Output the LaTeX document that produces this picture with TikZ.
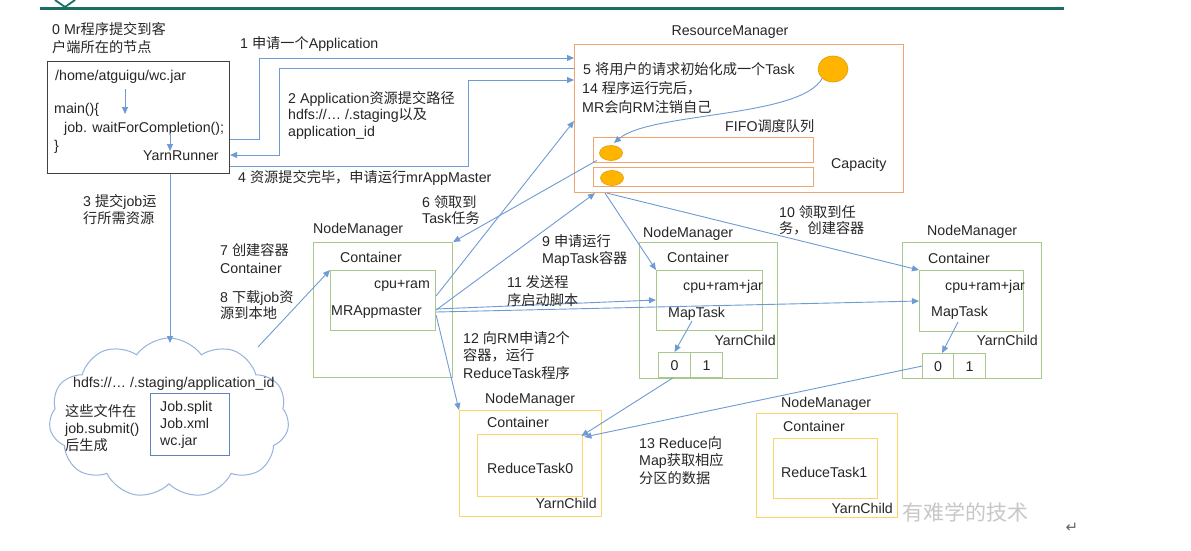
\documentclass[tikz,border=0pt]{standalone}
\usepackage{fontspec}
\setmainfont{Liberation Sans}
\newfontfamily\cjkfont{Noto Sans CJK SC}
\newfontfamily\symfont{DejaVu Sans}
\usetikzlibrary{arrows.meta,shapes.symbols,shapes.geometric,calc}

\definecolor{ink}{HTML}{262626}
\definecolor{linkc}{HTML}{6E9BD3}
\definecolor{clientc}{HTML}{404040}
\definecolor{rmc}{HTML}{F0A472}
\definecolor{nmc}{HTML}{A9C98C}
\definecolor{redc}{HTML}{F9D56B}
\definecolor{cloudc}{HTML}{94B4DC}
\definecolor{filesc}{HTML}{5F84BC}
\definecolor{tokenc}{HTML}{FFB500}
\definecolor{tokenline}{HTML}{E29B00}
\definecolor{topbar}{HTML}{1B6F62}

\newcommand\zh[1]{{\cjkfont #1}}

% multi-line labels are placed by the baseline of their last line
\tikzset{
  lbl/.style={anchor=base west, inner sep=0pt, align=left, text=ink,
              font=\fontsize{14.2}{#1}\selectfont},
  lbl/.default=17,
  lble/.style={anchor=base east, inner sep=0pt, text=ink, font=\fontsize{14.2}{17}\selectfont},
  lblc/.style={anchor=base, inner sep=0pt, text=ink, font=\fontsize{14.2}{17}\selectfont},
  boxf/.style={draw=#1, line width=1.1pt, anchor=north west, inner sep=0pt},
  sz/.style 2 args={minimum width=#1pt, minimum height=#2pt},
  link/.style={draw=linkc, line width=0.9pt, -{Triangle[length=7pt,width=6pt]}},
  token/.style={ellipse, draw=tokenline, fill=tokenc, line width=0.6pt, inner sep=0pt},
}

\begin{document}
\begin{tikzpicture}[x=1pt,y=-1pt]
\useasboundingbox (0,0) rectangle (1191,550);
\fill[white] (0,0) rectangle (1191,550);

% page header rule
\draw[topbar, line width=3.5pt] (40,8.5) -- (1064,8.5);
\draw[topbar, line width=1.8pt] (55,0) -- (65,7) -- (75,0);

% ---------------- client node ----------------
\node[lbl=18] (step0) at (52,52) {0 Mr\zh{程序提交到客}\\\zh{户端所在的节点}};
\node[boxf=clientc, sz={182}{112}] (client) at (47,61) {};
\node[lbl] (wcjar) at (55,80) {/home/atguigu/wc.jar};
\node[lbl] (mainfn) at (54,113) {main()\{};
\node[lbl] (waitc) at (64,132) {job. waitForCompletion();};
\node[lbl] (brace) at (54,150) {\}};
\node[lbl] (runner) at (143,160) {YarnRunner};
\coordinate (ca1) at (125,89);
\coordinate (ca2) at (125,114);
\coordinate (cb1) at (170,133);
\coordinate (cb2) at (170,151);
\draw[link] (ca1) -- (ca2);
\draw[link] (cb1) -- (cb2);

% ---------------- resource manager ----------------
\node[lblc] (rmtitle) at (730,35) {ResourceManager};
\node[boxf=rmc, sz={329}{148}] (rm) at (574,44) {};
\node[lbl] (s5) at (583,74) {5 \zh{将用户的请求初始化成一个}Task};
\node[lbl=19] (s14) at (582,112) {14 \zh{程序运行完后，}\\MR\zh{会向}RM\zh{注销自己}};
\node[token, minimum width=30pt, minimum height=26pt] (bigtok) at (833,69) {};
\node[lbl] (fifo) at (725,131) {FIFO\zh{调度队列}};
\node[boxf=rmc, sz={220}{25}] (q1) at (593,137) {};
\node[boxf=rmc, sz={220}{19}] (q2) at (593,167) {};
\node[token, minimum width=23pt, minimum height=15pt] (tok1) at (611,153) {};
\node[token, minimum width=23pt, minimum height=15pt] (tok2) at (612,178) {};
\node[lbl] (cap) at (831,168) {Capacity};
\coordinate (qin) at (614,143);
\draw[link] (bigtok.south west) .. controls (800,118) and (650,112) .. (qin);

% ---------------- client <-> RM ----------------
\draw[link] (client.east |- 0,139) -- (259,139) -- (259,58) -- (rm.west |- 0,58);
\draw[link] (rm.west |- 0,68) -- (279,68) -- (279,155) -- (client.east |- 0,155);
\draw[link] (client.east |- 0,166) -- (468,166) -- (468,80) -- (rm.west |- 0,80);
\node[lbl] (l1) at (240,48) {1 \zh{申请一个}Application};
\node[lbl=16.5] (l2) at (288,136) {2 Application\zh{资源提交路径}\\hdfs://… /.staging\zh{以及}\\application\_id};
\node[lbl] (l4) at (238,182) {4 \zh{资源提交完毕，申请运行}mrAppMaster};

% ---------------- staging area (cloud) ----------------
\node[cloud, draw=cloudc, line width=1pt, cloud puffs=11, cloud puff arc=110, aspect=1.5,
      minimum width=240pt, minimum height=160pt, inner sep=0pt] (cloud) at (169,418) {};
\node[lbl] (hdfs) at (73,387) {hdfs://… /.staging/application\_id};
\node[lbl] (gen) at (65,450) {\zh{这些文件在}\\job.submit()\\\zh{后生成}};
\node[boxf=filesc, sz={79}{62}, line width=0.9pt] (files) at (150,393) {};
\node[lbl] (filelist) at (160,445) {Job.split\\Job.xml\\wc.jar};
\coordinate (cloudtop) at (170,343);
\draw[link] (client.south -| 170,0) -- (cloudtop);
\node[lbl] (l3) at (83,223) {3 \zh{提交}job\zh{运}\\\zh{行所需资源}};

% ---------------- node manager: MRAppMaster ----------------
\node[lbl] (nm1t) at (313,233) {NodeManager};
\node[boxf=nmc, sz={139}{135}] (nm1) at (313,242) {};
\node[lbl] (nm1c) at (340,262) {Container};
\node[boxf=nmc, sz={105}{60}] (ct1) at (330,270) {};
\node[lbl] (cpu1) at (374,288) {cpu+ram};
\node[lbl] (mram) at (331,315) {MRAppmaster};

\coordinate (cloudne) at (258,347);
\draw[link] (cloudne) -- (ct1.north west);
\node[lbl=18] (l7) at (220,273) {7 \zh{创建容器}\\Container};
\node[lbl=16] (l8) at (220,318) {8 \zh{下载}job\zh{资}\\\zh{源到本地}};

% ---------------- node manager: MapTask (1) ----------------
\node[lbl] (nm2t) at (643,237) {NodeManager};
\node[boxf=nmc, sz={138}{136}] (nm2) at (639,242) {};
\node[lbl] (nm2c) at (667,262) {Container};
\node[boxf=nmc, sz={106}{60}] (ct2) at (656,270) {};
\node[lbl] (cpu2) at (683,290) {cpu+ram+jar};
\node[lbl] (map2) at (668,317) {MapTask};
\node[lble] (yc2) at (776,345) {YarnChild};
\node[boxf=nmc, sz={32}{25}] (p20) at (658,352) {};
\node[boxf=nmc, sz={32}{25}] (p21) at (690,352) {};
\node[lblc] (p20t) at (p20.center) [yshift=-5pt] {0};
\node[lblc] (p21t) at (p21.center) [yshift=-5pt] {1};
\coordinate (m2out) at (692,321);
\draw[link] (m2out) -- (p20.north);

% ---------------- node manager: MapTask (2) ----------------
\node[lbl] (nm3t) at (927,235) {NodeManager};
\node[boxf=nmc, sz={139}{136}] (nm3) at (902,242) {};
\node[lbl] (nm3c) at (928,263) {Container};
\node[boxf=nmc, sz={104}{61}] (ct3) at (919,270) {};
\node[lbl] (cpu3) at (945,290) {cpu+ram+jar};
\node[lbl] (map3) at (931,316) {MapTask};
\node[lble] (yc3) at (1038,345) {YarnChild};
\node[boxf=nmc, sz={31}{25}] (p30) at (922,353) {};
\node[boxf=nmc, sz={32}{25}] (p31) at (953,353) {};
\node[lblc] (p30t) at (p30.center) [yshift=-5pt] {0};
\node[lblc] (p31t) at (p31.center) [yshift=-5pt] {1};
\coordinate (m3out) at (958,322);
\draw[link] (m3out) -- ($(p30.north)+(4,0)$);

% ---------------- node manager: ReduceTask0 ----------------
\node[lbl] (nm4t) at (485,403) {NodeManager};
\node[boxf=redc, sz={142}{106}, line width=1.4pt] (nm4) at (459,410) {};
\node[lbl] (nm4c) at (487,427) {Container};
\node[boxf=redc, sz={105}{62}, line width=1.4pt] (ct4) at (477,434) {};
\node[lbl] (red0) at (487,473) {ReduceTask0};
\node[lble] (yc4) at (597,508) {YarnChild};

% ---------------- node manager: ReduceTask1 ----------------
\node[anchor=base west, inner sep=0pt, text=black!22, font=\cjkfont\fontsize{21}{21}\selectfont]
  (mark) at (902,520) {有难学的技术};
\node[lbl] (nm5t) at (781,407) {NodeManager};
\node[boxf=redc, sz={141}{104}, line width=1.4pt] (nm5) at (756,413) {};
\node[lbl] (nm5c) at (783,431) {Container};
\node[boxf=redc, sz={104}{60}, line width=1.4pt] (ct5) at (773,438) {};
\node[lbl] (red1) at (781,477) {ReduceTask1};
\node[lble] (yc5) at (893,513) {YarnChild};

% ---------------- MRAppMaster / RM traffic ----------------
\draw[link] (ct1.east |- 0,296) -- (rm.west |- 0,121);
\draw[link] ($(tok1.south west)+(-6,2)$) -- (nm1.north east);
\node[lbl=16] (l6) at (422,223) {6 \zh{领取到}\\Task\zh{任务}};
\draw[link] (ct1.east |- 0,310) -- (595,0 |- rm.south);
\node[lbl] (l9) at (542,263) {9 \zh{申请运行}\\MapTask\zh{容器}};
\draw[link] (605,0 |- rm.south) -- (ct2.north west);
\draw[link] (607,0 |- rm.south) -- (ct3.north west);
\node[lbl=16] (l10) at (779,233) {10 \zh{领取到任}\\\zh{务，创建容器}};
\draw[link] (ct1.east |- 0,309) -- (ct2.west |- 0,300);
\draw[link] (ct1.east |- 0,312) -- (ct3.west |- 0,301);
\node[lbl=18] (l11) at (507,305) {11 \zh{发送程}\\\zh{序启动脚本}};
\draw[link] (ct1.east |- 0,315) -- (nm4.north west);
\node[lbl=17.5] (l12) at (463,378) {12 \zh{向}RM\zh{申请}2\zh{个}\\\zh{容器，运行}\\ReduceTask\zh{程序}};

% ---------------- shuffle ----------------
\draw[link] ($(p20.south)+(-2,0)$) -- ($(ct4.north east)+(-2,2)$);
\draw[link] (p30.west) -- ($(ct4.north east)+(1,3)$);
\node[lbl=17.5] (l13) at (639,483) {13 Reduce\zh{向}\\Map\zh{获取相应}\\\zh{分区的数据}};

% paragraph mark
\node[inner sep=0pt, text=black!60, font=\symfont\fontsize{15}{15}\selectfont] (ret) at (1072,528) {↵};
\end{tikzpicture}
\end{document}
